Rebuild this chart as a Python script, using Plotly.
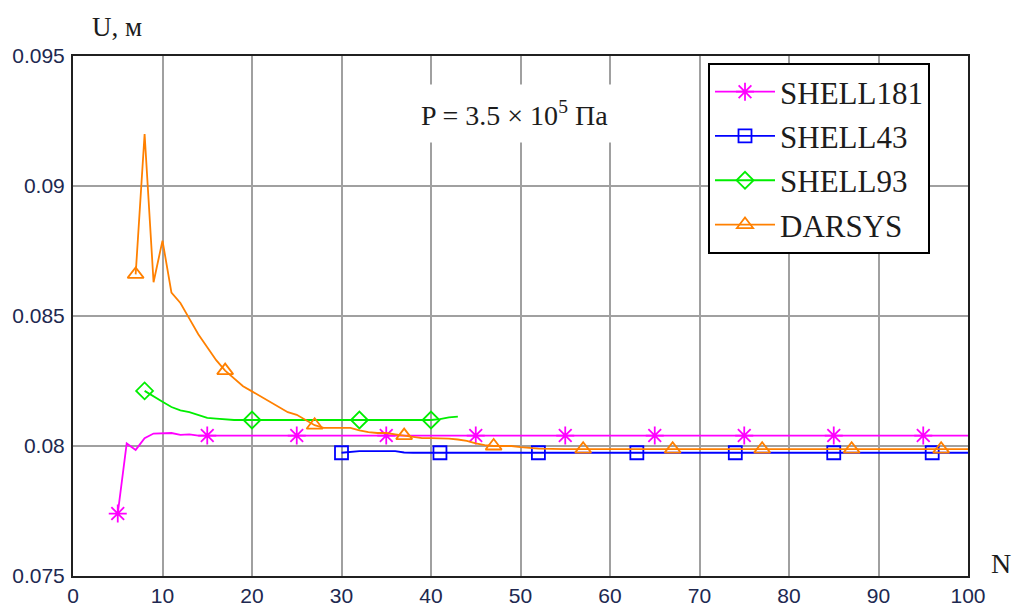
import plotly.graph_objects as go

# Displacement U (m) vs. number of elements N, P = 3.5e5 Pa

n_181 = [5, 6, 7, 8, 9, 10, 11, 12, 13, 14, 15, 25, 35, 45, 55, 65, 75, 85, 95, 100]
u_181 = [0.0774, 0.0801, 0.07985, 0.0803, 0.08048, 0.0805, 0.0805, 0.08043, 0.08045,
         0.0804, 0.0804, 0.0804, 0.0804, 0.0804, 0.0804, 0.0804, 0.0804, 0.0804, 0.0804, 0.0804]
mk_181 = [5, 15, 25, 35, 45, 55, 65, 75, 85, 95]

n_43 = [30, 31, 32, 33, 34, 35, 36, 37, 38, 41, 52, 63, 74, 85, 96, 100]
u_43 = [0.07974, 0.07977, 0.0798, 0.0798, 0.0798, 0.0798, 0.0798, 0.07975, 0.07974,
        0.07974, 0.07974, 0.07974, 0.07974, 0.07974, 0.07974, 0.07974]
mk_43 = [30, 41, 52, 63, 74, 85, 96]

n_93 = [8, 9, 10, 11, 12, 13, 14, 15, 16, 17, 18, 19, 20, 32, 40, 41, 42, 43]
u_93 = [0.08212, 0.0819, 0.0817, 0.0815, 0.08137, 0.0813, 0.0812, 0.08108, 0.08105,
        0.08102, 0.081, 0.081, 0.081, 0.081, 0.081, 0.08103, 0.0811, 0.08113]
mk_93 = [8, 20, 32, 40]

n_dar = [7, 8, 9, 10, 11, 12, 13, 14, 15, 16, 17, 18, 19, 20, 21, 22, 23, 24, 25, 26,
         27, 28, 29, 30, 31, 32, 33, 34, 35, 36, 37, 38, 39, 40, 41, 42, 43, 44, 45, 46,
         47, 48, 49, 50, 51, 52, 55, 57, 67, 77, 87, 97, 100]
u_dar = [0.0866, 0.0920, 0.0863, 0.0879, 0.0859, 0.0855, 0.0849, 0.0843, 0.0838, 0.0833,
         0.0829, 0.0826, 0.0823, 0.0821, 0.0819, 0.0817, 0.0815, 0.0813, 0.0812, 0.0810,
         0.0808, 0.0807, 0.0807, 0.0807, 0.0807, 0.0806, 0.08053, 0.0805, 0.0805, 0.08045,
         0.0804, 0.08035, 0.0803, 0.0803, 0.0803, 0.08028, 0.08025, 0.0802, 0.0801, 0.08003,
         0.0800, 0.0800, 0.0800, 0.07996, 0.07993, 0.0799, 0.07988, 0.07988, 0.07988,
         0.07988, 0.07988, 0.07988, 0.07988]
mk_dar = [7, 17, 27, 37, 47, 57, 67, 77, 87, 97]

x_ticks = [0, 10, 20, 30, 40, 50, 60, 70, 80, 90, 100]
y_ticks = [0.075, 0.08, 0.085, 0.09, 0.095]
y_tick_text = ["0.075", "0.08", "0.085", "0.09", "0.095"]

series = [
    ("SHELL181", n_181, u_181, mk_181, "#ff00ff", "asterisk-open", 15),
    ("SHELL43", n_43, u_43, mk_43, "#0000ff", "square-open", 13),
    ("SHELL93", n_93, u_93, mk_93, "#00ee00", "diamond-open", 13),
    ("DARSYS", n_dar, u_dar, mk_dar, "#ff8000", "triangle-up-open", 14),
]

fig = go.Figure()
for name, n, u, mk, color, symbol, size in series:
    lookup = dict(zip(n, u))
    # continuous curve
    fig.add_trace(go.Scatter(x=n, y=u, mode="lines", showlegend=False,
                             line=dict(color=color, width=1.8), hoverinfo="skip"))
    # sparse markers along the curve
    fig.add_trace(go.Scatter(x=mk, y=[lookup[k] for k in mk], mode="markers",
                             showlegend=False,
                             marker=dict(symbol=symbol, size=size, color=color,
                                         line=dict(color=color, width=1.8))))
    # legend entry
    fig.add_trace(go.Scatter(x=[None], y=[None], mode="lines+markers", name=name,
                             legendgroup=name,
                             line=dict(color=color, width=1.8),
                             marker=dict(symbol=symbol, size=size, color=color,
                                         line=dict(color=color, width=1.8))))

tick_font = dict(family="Liberation Sans", size=21, color="#202850")
serif_dark = "#1c1c1c"

fig.update_layout(
    width=1014, height=609,
    margin=dict(l=73, r=46, t=56, b=33),
    paper_bgcolor="white", plot_bgcolor="white",
    showlegend=True,
    legend=dict(x=0.7095, y=0.9865, xanchor="left", yanchor="top",
                bgcolor="white", bordercolor="black", borderwidth=2,
                font=dict(family="Liberation Serif", size=31, color=serif_dark),
                itemwidth=60, traceorder="grouped", tracegroupgap=1,
                entrywidth=240, entrywidthmode="pixels"),
    xaxis=dict(range=[0, 100], tickvals=x_ticks, ticks="", tickfont=tick_font,
               showgrid=True, gridcolor="#a0a0a0", gridwidth=2, zeroline=False,
               showline=True, linecolor="#202020", linewidth=2, mirror=True,
               ticklabelstandoff=0, automargin=False),
    yaxis=dict(range=[0.075, 0.095], tickvals=y_ticks, ticktext=y_tick_text, ticks="",
               tickfont=tick_font,
               showgrid=True, gridcolor="#a0a0a0", gridwidth=2, zeroline=False,
               showline=True, linecolor="#202020", linewidth=2, mirror=True,
               ticklabelstandoff=2, automargin=False),
    annotations=[
        dict(text="P = 3.5 \u00d7 10<sup>5</sup> \u041f\u0430", x=49.3, y=0.0928,
             xref="x", yref="y", showarrow=False, bgcolor="white", borderpad=11,
             font=dict(family="Liberation Serif", size=28, color=serif_dark)),
        dict(text="U, \u043c", x=0.049, y=1.056, xref="paper", yref="paper",
             showarrow=False, xanchor="center", yanchor="middle",
             font=dict(family="Liberation Serif", size=27, color=serif_dark)),
        dict(text="N", x=1.037, y=0.025, xref="paper", yref="paper",
             showarrow=False, xanchor="center", yanchor="middle",
             font=dict(family="Liberation Serif", size=28, color=serif_dark)),
    ],
)

fig.write_html("out.html")
